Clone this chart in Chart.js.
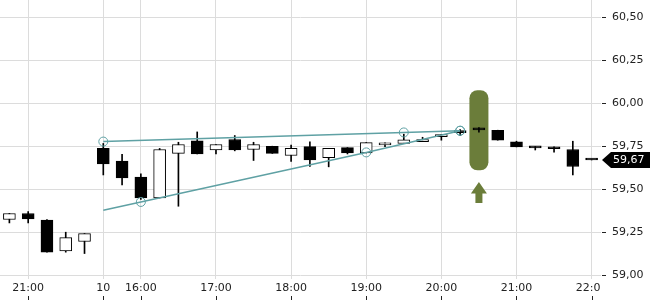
<!DOCTYPE html>
<html lang="en">
<head>
<meta charset="UTF-8">
<title>Candles</title>
<script src="https://cdn.jsdelivr.net/npm/chart.js"></script>
<style>
  html, body { margin: 0; padding: 0; background: #fff; }
  #wrap { width: 650px; height: 300px; }
</style>
</head>
<body>
<div id="wrap"><canvas id="chart"></canvas></div>
<script>
  // 15 minute candles, previous evening then day 10
  const times = ['20:45','21:00','21:15','21:30','21:45','15:30','15:45','16:00','16:15','16:30',
                 '16:45','17:00','17:15','17:30','17:45','18:00','18:15','18:30','18:45','19:00',
                 '19:15','19:30','19:45','20:00','20:15','20:30','20:45','21:00','21:15','21:30',
                 '21:45','22:00'];
  const open  = [59.324,59.359,59.320,59.141,59.196,59.737,59.663,59.570,59.449,59.708,
                 59.781,59.729,59.789,59.731,59.750,59.696,59.748,59.684,59.742,59.711,
                 59.758,59.766,59.777,59.806,59.829,59.845,59.843,59.775,59.740,59.738,
                 59.731,59.670];
  const high  = [59.359,59.370,59.324,59.250,59.242,59.766,59.703,59.589,59.737,59.773,
                 59.833,59.760,59.812,59.773,59.750,59.756,59.775,59.737,59.742,59.771,
                 59.769,59.820,59.802,59.818,59.846,59.859,59.843,59.779,59.748,59.746,
                 59.779,59.670];
  const low   = [59.304,59.304,59.134,59.134,59.126,59.583,59.525,59.440,59.449,59.401,
                 59.705,59.705,59.723,59.667,59.708,59.661,59.632,59.630,59.705,59.711,
                 59.748,59.766,59.777,59.785,59.811,59.831,59.785,59.746,59.728,59.715,
                 59.583,59.670];
  const close = [59.359,59.327,59.134,59.219,59.242,59.647,59.566,59.449,59.731,59.760,
                 59.705,59.760,59.729,59.760,59.708,59.737,59.670,59.737,59.711,59.771,
                 59.769,59.787,59.789,59.818,59.829,59.845,59.785,59.746,59.740,59.735,
                 59.632,59.670];

  // x labels shown only at these candles
  const tickIndex = [1, 5, 7, 11, 15, 19, 23, 27, 31];
  const tickText  = ['21:00', '10', '16:00', '17:00', '18:00', '19:00', '20:00', '21:00', '22:00'];

  // trend lines (candle index, price)
  const upperIdx = [5, 21, 24];
  const upperVal = [59.777, 59.830, 59.840];
  const lowerIdx = [5, 7, 19, 24];
  const lowerVal = [59.378, 59.426, 59.714, 59.840];

  // signal marker
  const signalIdx = 25;
  const signalTop = 60.076, signalBottom = 59.610;
  const arrowTip = 59.542, arrowHead = 59.475, arrowEnd = 59.420;

  const teal = '#5fa1a4';
  const olive = '#6b7d3a';

  const sparse = (idx, vals) => times.map((t, i) => {
    const k = idx.indexOf(i);
    return k >= 0 ? vals[k] : null;
  });
  const fmt = v => v.toFixed(2).replace('.', ',');

  const marks = {
    id: 'marks',
    beforeDatasetsDraw(chart) {
      const { ctx, scales: { x, y } } = chart;
      const cx = x.getPixelForValue(signalIdx);
      const top = y.getPixelForValue(signalTop);
      const bot = y.getPixelForValue(signalBottom);
      ctx.save();
      ctx.fillStyle = olive;
      ctx.beginPath();
      ctx.roundRect(cx - 9.5, top, 19, bot - top, 8);
      ctx.fill();
      const tip = y.getPixelForValue(arrowTip);
      const base = y.getPixelForValue(arrowHead);
      const end = y.getPixelForValue(arrowEnd);
      ctx.beginPath();
      ctx.moveTo(cx, tip);
      ctx.lineTo(cx + 8, base);
      ctx.lineTo(cx + 3.5, base);
      ctx.lineTo(cx + 3.5, end);
      ctx.lineTo(cx - 3.5, end);
      ctx.lineTo(cx - 3.5, base);
      ctx.lineTo(cx - 8, base);
      ctx.closePath();
      ctx.fill();
      ctx.restore();
    },
    afterDraw(chart) {
      const { ctx, chartArea, scales: { x, y } } = chart;
      ctx.save();
      // cut the last time label at the plot edge
      ctx.fillStyle = '#fff';
      ctx.fillRect(chartArea.right, chartArea.bottom + 2, chart.width - chartArea.right, chart.height);
      // small ticks under the time labels
      ctx.strokeStyle = '#222';
      ctx.lineWidth = 1;
      tickIndex.forEach(i => {
        const px = Math.round(x.getPixelForValue(i)) + 0.5;
        ctx.beginPath();
        ctx.moveTo(px, chart.height - 4);
        ctx.lineTo(px, chart.height);
        ctx.stroke();
      });
      // last price flag
      const last = close[close.length - 1];
      const py = y.getPixelForValue(last);
      const fx = chartArea.right + 1;
      ctx.fillStyle = '#000';
      ctx.beginPath();
      ctx.moveTo(fx, py);
      ctx.lineTo(fx + 9, py - 8);
      ctx.lineTo(chart.width, py - 8);
      ctx.lineTo(chart.width, py + 8);
      ctx.lineTo(fx + 9, py + 8);
      ctx.closePath();
      ctx.fill();
      ctx.fillStyle = '#fff';
      ctx.font = '11px "DejaVu Sans"';
      ctx.textBaseline = 'middle';
      ctx.textAlign = 'left';
      ctx.fillText(fmt(last), fx + 11, py + 0.5);
      ctx.restore();
    }
  };

  Chart.defaults.font.family = '"DejaVu Sans", sans-serif';
  Chart.defaults.font.size = 11;
  Chart.defaults.color = '#222';

  const trend = {
    type: 'line',
    order: 0,
    borderColor: teal,
    borderWidth: 1.5,
    pointRadius: 4.5,
    pointBorderColor: teal,
    pointBorderWidth: 1,
    pointBackgroundColor: 'rgba(0,0,0,0)',
    spanGaps: true,
    tension: 0,
    fill: false
  };

  new Chart(document.getElementById('chart'), {
    type: 'bar',
    data: {
      labels: times,
      datasets: [
        Object.assign({}, trend, { data: sparse(upperIdx, upperVal) }),
        Object.assign({}, trend, {
          data: sparse(lowerIdx, lowerVal),
          pointRadius: c => (c.dataIndex === lowerIdx[0] ? 0 : 4.5)
        }),
        {
          order: 1,
          grouped: false,
          data: times.map((t, i) => [open[i], close[i]]),
          backgroundColor: times.map((t, i) => (close[i] > open[i] ? '#fff' : '#000')),
          borderColor: '#000',
          borderWidth: 1,
          borderSkipped: false,
          barThickness: 12,
          minBarLength: 2
        },
        {
          order: 2,
          grouped: false,
          data: times.map((t, i) => [low[i], high[i]]),
          backgroundColor: '#000',
          barThickness: 1
        }
      ]
    },
    options: {
      responsive: true,
      maintainAspectRatio: false,
      animation: false,
      events: [],
      layout: { padding: 0, autoPadding: false },
      plugins: { legend: { display: false }, tooltip: { enabled: false } },
      scales: {
        x: {
          offset: true,
          border: { display: false },
          grid: { offset: false, color: '#dcdcdc', drawTicks: false },
          ticks: {
            padding: 3,
            autoSkip: false,
            maxRotation: 0,
            callback: (v, i) => {
              const k = tickIndex.indexOf(i);
              return k >= 0 ? tickText[k] : null;
            }
          },
          afterFit: s => {
            s.height = 21;
            s.paddingLeft = 0;
            s.paddingRight = 0;
          }
        },
        y: {
          position: 'right',
          min: 58.978,
          max: 60.6,
          border: { display: false },
          grid: {
            color: '#dcdcdc',
            tickColor: '#222',
            tickLength: 8,
            tickBorderDash: [0, 1, 4, 10]
          },
          ticks: {
            stepSize: 0.25,
            includeBounds: false,
            padding: 3,
            callback: v => fmt(v)
          },
          afterFit: s => {
            s.width = 49;
            s.paddingTop = 0;
            s.paddingBottom = 0;
          }
        }
      }
    },
    plugins: [marks]
  });
</script>
</body>
</html>
